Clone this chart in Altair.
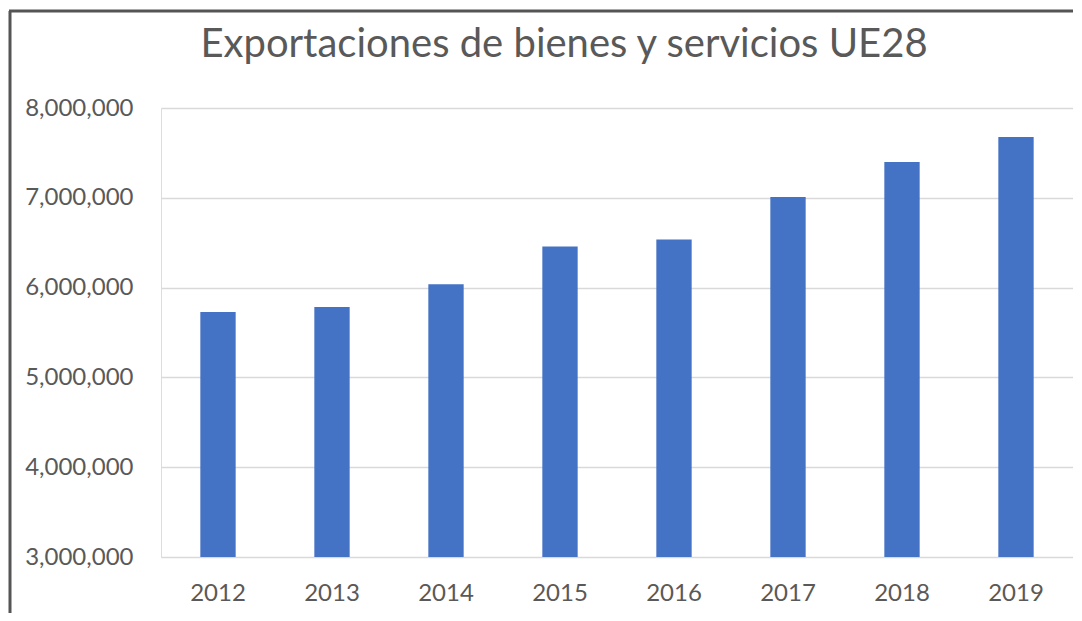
import altair as alt
import pandas as pd

years = ["2012", "2013", "2014", "2015", "2016", "2017", "2018", "2019"]
exports = [5728000, 5784000, 6037000, 6458000, 6536000, 7009000, 7399000, 7677000]
y_ticks = [3000000, 4000000, 5000000, 6000000, 7000000, 8000000]
title_text = "Exportaciones de bienes y servicios UE28"

df = pd.DataFrame({"year": years, "value": exports})
title_df = pd.DataFrame({"t": [title_text]})

W, H = 912, 449
FONT = "Lato"
GREY = "#595959"

bars = alt.Chart(df).mark_bar(color="#4472C4").encode(
    x=alt.X("year:N", sort=years, title=None,
            scale=alt.Scale(paddingInner=0.69, paddingOuter=0.345),
            axis=alt.Axis(labelAngle=0, labelFontSize=24, labelColor=GREY,
                          labelFont=FONT, ticks=False, domain=False, labelPadding=24)),
    y=alt.Y("value:Q", title=None,
            scale=alt.Scale(domain=[y_ticks[0], y_ticks[-1]], zero=False, nice=False),
            axis=alt.Axis(values=y_ticks, format=",d", labelFontSize=24, labelColor=GREY,
                          labelFont=FONT, ticks=False, domain=False, labelPadding=28,
                          gridColor="#d9d9d9", gridWidth=1.5)),
    y2=alt.datum(y_ticks[0]),
)

title_mark = alt.Chart(title_df).mark_text(
    font=FONT, fontSize=40, color=GREY, align="center", baseline="alphabetic"
).encode(text="t:N", x=alt.value(403), y=alt.value(-51))

frame_df = pd.DataFrame({"k": [0]})
left_border = alt.Chart(frame_df).mark_rule(color="#555555", strokeWidth=3).encode(
    x=alt.value(-151), y=alt.value(-97), y2=alt.value(H + 80))
top_border = alt.Chart(frame_df).mark_rule(color="#555555", strokeWidth=3).encode(
    x=alt.value(-152), x2=alt.value(W + 20), y=alt.value(-97))

chart = alt.layer(bars, title_mark, left_border, top_border).properties(
    width=W, height=H,
    autosize=alt.AutoSizeParams(type="none"),
    padding={"left": 153, "top": 100, "right": 0, "bottom": 56},
).configure_view(stroke=None).configure(background="white")

chart.save("out.html", embed_options={"renderer": "svg", "actions": False})
